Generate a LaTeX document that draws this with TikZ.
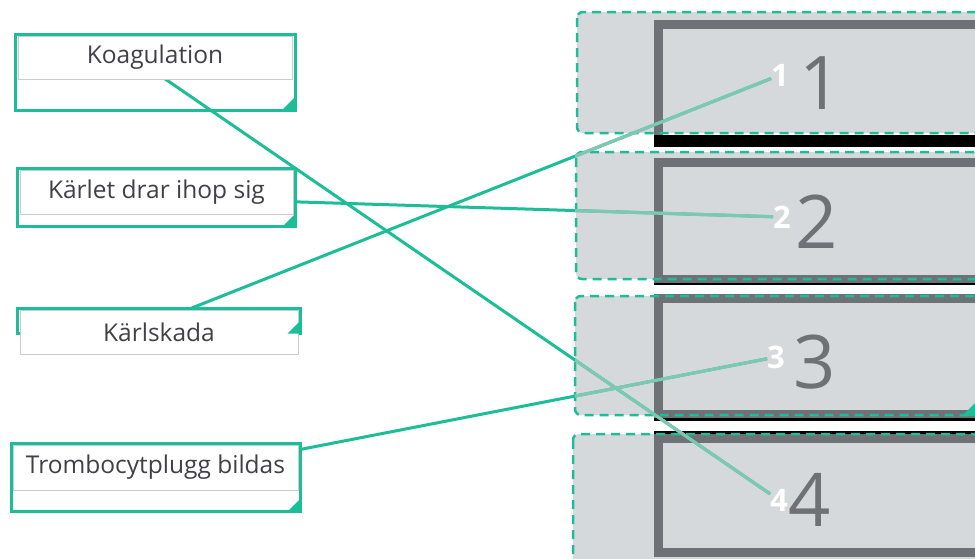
\documentclass[tikz,border=0pt]{standalone}
\usepackage{fontspec}
\setmainfont{Open Sans}
\usetikzlibrary{positioning}
\definecolor{mint}{HTML}{1DBD98}
\definecolor{palemint}{HTML}{7CC8B3}
\definecolor{slot}{HTML}{D6D9DC}
\definecolor{rim}{HTML}{6E7276}
\definecolor{ink}{HTML}{404048}
\definecolor{edgegray}{HTML}{C9CDD1}
\tikzstyle{frame}    = [draw=mint, line width=3pt, inner sep=0pt, outer sep=0pt]
\tikzstyle{card}     = [draw=edgegray, line width=1pt, fill=white, text=ink, inner sep=0pt, font=\fontsize{24.5}{28}\selectfont]
\tikzstyle{link}     = [draw=mint, line width=3pt]
\tikzstyle{palelink} = [draw=palemint, line width=3.2pt]
\tikzstyle{slotedge} = [draw=mint, line width=2.5pt, dash pattern=on 9pt off 6pt, rounded corners=6pt]
\tikzstyle{rimline}  = [draw=rim, line width=9pt]
\tikzstyle{digit}    = [text=rim, inner sep=0pt, font=\fontsize{74}{80}\selectfont]
\tikzstyle{tag}      = [text=white, inner sep=0pt, outer sep=0pt, font=\bfseries\fontsize{31}{34}\selectfont]

\begin{document}
\begin{tikzpicture}[x=1pt, y=-1pt]

\useasboundingbox[fill=white] (0,0) rectangle (975,558);

\fill[slot, rounded corners=6pt] (577,12) rectangle (1000,133);
\fill[slot, rounded corners=6pt] (576,152) rectangle (1000,279);
\fill[slot, rounded corners=6pt] (575,296) rectangle (1000,415);
\fill[slot, rounded corners=6pt] (573,434) rectangle (1000,600);

\draw[rimline] (658.5,24.5) rectangle (1000,141);
\draw[line width=12pt] (654,141) -- (1000,141);
\draw[rimline] (658.5,162) rectangle (1000,279);
\draw[line width=2.5pt] (654,284) -- (1000,284);
\draw[rimline] (658.5,298) rectangle (1000,414.5);
\draw[line width=3pt] (654,419) -- (1000,419);
\draw[line width=3pt] (654,432) -- (1000,432);
\draw[rimline] (658.5,438) rectangle (1000,552);

\draw[slotedge] (577,12) rectangle (1000,133);
\draw[slotedge] (576,152) rectangle (1000,279);
\draw[slotedge] (575,296) rectangle (1000,415);
\draw[slotedge] (573,434) rectangle (1000,600);
\fill[mint] (975,403) -- (975,416) -- (962,416) -- cycle;

\node[digit] (D1) at (821,83)  {1};
\node[digit] (D2) at (817,222) {2};
\node[digit] (D3) at (815,362) {3};
\node[digit] (D4) at (810,500) {4};

\node[tag] (N1) at (780,75)  {1};
\node[tag] (N2) at (782,217) {2};
\node[tag] (N3) at (776,357) {3};
\node[tag] (N4) at (779,500) {4};

\node[frame, minimum width=280pt, minimum height=76pt] (F1) at (155,72)    {};
\node[frame, minimum width=278pt, minimum height=58pt] (F2) at (156.5,197.5) {};
\node[frame, minimum width=283pt, minimum height=25pt] (F3) at (159,321)   {};
\node[frame, minimum width=289pt, minimum height=68pt] (F4) at (156,477.5) {};

\draw[link] (F1.center) -- (N4);
\draw[link] (F2.center) -- (N2);
\draw[link] (F3.center) -- (N1);
\draw[link] (F4.center) -- (N3);

\begin{scope}
\clip (575,0) rectangle (975,558);
\draw[palelink] (F1.center) -- (N4);
\draw[palelink] (F2.center) -- (N2);
\draw[palelink] (F3.center) -- (N1);
\draw[palelink] (F4.center) -- (N3);
\end{scope}

\node[card, minimum width=274pt, minimum height=43pt] (C1) at (155,57.5)  {Koagulation};
\node[card, minimum width=273pt, minimum height=44pt] (C2) at (156.5,192) {Kärlet drar ihop sig};
\node[card, minimum width=278pt, minimum height=44pt] (C3) at (159,332)   {Kärlskada};
\node[card, minimum width=285pt, minimum height=45pt] (C4) at (155.5,467.5) {Trombocytplugg bildas};

\fill[mint] (F1.south east) -- ++(-13,0) -- ++(13,-13) -- cycle;
\fill[mint] (F2.south east) -- ++(-13,0) -- ++(13,-13) -- cycle;
\fill[mint] (F3.south east) -- ++(-13,0) -- ++(13,-13) -- cycle;
\fill[mint] (F4.south east) -- ++(-13,0) -- ++(13,-13) -- cycle;

\end{tikzpicture}
\end{document}
